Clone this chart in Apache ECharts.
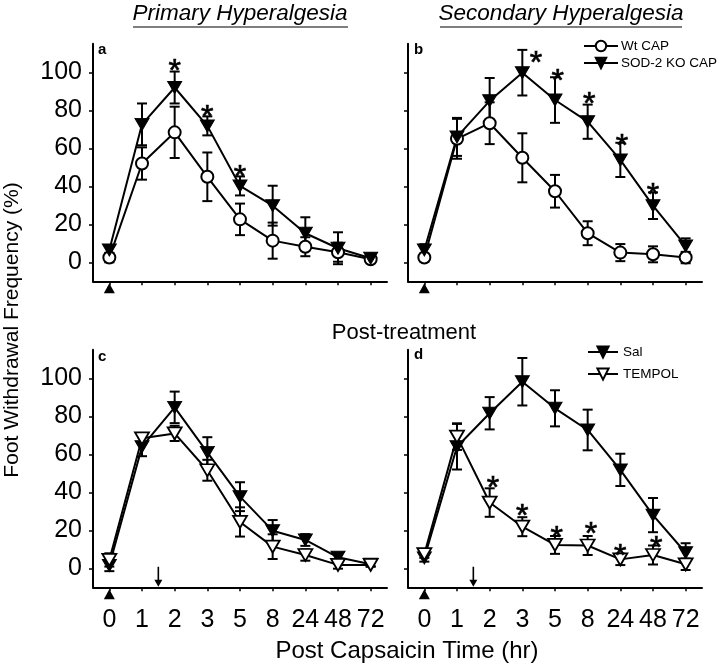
<!DOCTYPE html>
<html><head><meta charset="utf-8">
<script src="https://cdn.jsdelivr.net/npm/echarts@6/dist/echarts.min.js"></script>
<style>html,body{margin:0;padding:0;background:#fff}#c{width:720px;height:666px}</style>
</head><body><div id="c"></div>
<script>
// ---- data ----
const hours = ['0','1','2','3','5','8','24','48','72'];
const yTicks = [0, 20, 40, 60, 80, 100];

// Panel a (Primary hyperalgesia)
const wtA    = [2.5, 52, 68.4, 45, 22.6, 11.4, 8.2, 5.3, 1.6];
const wtAErr = [2.5, 8.5, 13.5, 12.8, 8.3, 9.5, 5, 5, 1.5];
const koA    = [6.5, 72.6, 92, 71.8, 40.2, 29.8, 15.3, 7.4, 2.1];
const koAErr = [2, 11, 8.4, 5, 5, 10.5, 8.4, 8.4, 1.5];
const starsA = [[2, 104.7], [3, 80.7], [4, 49]];

// Panel b (Secondary hyperalgesia)
const wtB    = [2.5, 65, 73.2, 55, 37.4, 15.3, 5.1, 4.2, 2.5];
const wtBErr = [2, 10.5, 11, 12.9, 8.6, 6.3, 4.5, 4.2, 3];
const koB    = [6.5, 66, 85, 99.8, 85.4, 74, 53.9, 29.8, 8.6];
const koBErr = [3, 10, 12, 12, 12, 9, 9, 7, 4];
const starsB = [[3.42, 109], [4.08, 99.5], [5.05, 87.2], [6.05, 65.3], [7, 39.8]];

// Panel c (Post-treatment, primary)
const salC     = [1.5, 64, 84.7, 61, 37.7, 19.8, 14.9, 5.8, 2.1];
const salCErr  = [3, 5, 8.3, 8, 7.6, 5.6, 3.1, 2, 1];
const tempC    = [4.4, 68.4, 71, 51.6, 24.4, 11.4, 7, 1.8, 1.8];
const tempCErr = [3.5, 2.6, 4, 5.5, 7.7, 6.5, 3, 2, 1];

// Panel d (Post-treatment, secondary)
const salD     = [5.5, 64, 81.6, 98.2, 84.2, 72.8, 51.8, 28, 8.2];
const salDErr  = [2, 12, 8.5, 12.5, 9.5, 10.7, 8.5, 9, 5];
const tempD    = [7.5, 69.3, 34.6, 21.9, 12.3, 12, 4.7, 7, 2.1];
const tempDErr = [2, 7, 7.5, 5, 4.7, 5, 3, 5, 3];
const starsD = [[2.1, 46.5], [3, 31.6], [4.05, 20.2], [5.1, 22.3], [6, 10.5], [7.1, 14.9]];

// capsaicin injection (triangle) and treatment (arrow) times, in tick index units
const capsaicinAt = 0;
const treatmentAt = 1.5;

// ---- chart ----
const FONT = '"Liberation Sans", Arial, Helvetica, sans-serif';
const chart = echarts.init(document.getElementById('c'), null, {renderer: 'canvas'});

const grids = [
  {left: 93, top: 43.8, width: 294, height: 237.5},
  {left: 408, top: 43.8, width: 294, height: 237.5},
  {left: 93, top: 349.8, width: 294, height: 237.5},
  {left: 408, top: 349.8, width: 294, height: 237.5}
];
const idx = hours.map((h, i) => i);

function xAx(g, labels) {
  return {
    type: 'value', gridIndex: g, min: -0.5, max: 8.5,
    axisLine: {onZero: false, lineStyle: {color: '#000', width: 2}},
    axisTick: {show: true, length: 4, lineStyle: {color: '#000', width: 1.5}, customValues: idx},
    axisLabel: {show: labels, customValues: idx, formatter: v => hours[Math.round(v)],
      color: '#000', fontSize: 25, fontFamily: FONT, margin: 20},
    splitLine: {show: false}
  };
}
function yAx(g, labels) {
  return {
    type: 'value', gridIndex: g, min: -10, max: 115,
    axisLine: {show: true, onZero: false, lineStyle: {color: '#000', width: 2}},
    axisTick: {show: true, length: 4, lineStyle: {color: '#000', width: 1.5}, customValues: yTicks},
    axisLabel: {show: labels, customValues: yTicks, color: '#000', fontSize: 25, fontFamily: FONT, margin: 11},
    splitLine: {show: false}
  };
}

const pts = arr => arr.map((v, i) => [i, v]);
const DOWN = 'path://M0,0 L10,0 L5,9 Z';
const UP = 'path://M5,0 L10,9 L0,9 Z';
const ARROW = 'path://M3.2,0 L4.8,0 L4.8,13 L8,13 L4,20 L0,13 L3.2,13 Z';

function errSeries(g, vals, errs) {
  return {
    type: 'custom', xAxisIndex: g, yAxisIndex: g, z: 2, silent: true,
    data: vals.map((v, i) => [i, v, errs[i]]),
    encode: {x: 0, y: 1},
    renderItem: (params, api) => {
      const x = api.value(0), y = api.value(1), e = api.value(2);
      const t = api.coord([x, y + e]), b = api.coord([x, y - e]);
      const w = 5;
      const st = {stroke: '#000', lineWidth: 2};
      return {type: 'group', children: [
        {type: 'line', shape: {x1: t[0], y1: t[1], x2: b[0], y2: b[1]}, style: st},
        {type: 'line', shape: {x1: t[0] - w, y1: t[1], x2: t[0] + w, y2: t[1]}, style: st},
        {type: 'line', shape: {x1: b[0] - w, y1: b[1], x2: b[0] + w, y2: b[1]}, style: st}
      ]};
    }
  };
}
function lineSeries(g, name, vals, kind) {
  const s = {
    type: 'line', name, xAxisIndex: g, yAxisIndex: g, z: 3, data: pts(vals),
    lineStyle: {color: '#000', width: 2}, showAllSymbol: true, animation: false
  };
  if (kind === 'circle') {
    s.symbol = 'circle'; s.symbolSize = 12;
    s.itemStyle = {color: '#fff', borderColor: '#000', borderWidth: 2};
  } else if (kind === 'filled') {
    s.symbol = DOWN; s.symbolSize = [14, 12];
    s.itemStyle = {color: '#000', borderColor: '#000', borderWidth: 1};
  } else {
    s.symbol = DOWN; s.symbolSize = [14, 12];
    s.itemStyle = {color: '#fff', borderColor: '#000', borderWidth: 1.8};
  }
  return s;
}
function starSeries(g, data) {
  return {
    type: 'custom', xAxisIndex: g, yAxisIndex: g, z: 5, silent: true, data,
    encode: {x: 0, y: 1},
    renderItem: (params, api) => {
      const p = api.coord([api.value(0), api.value(1)]);
      return {type: 'text', x: p[0], y: p[1] + 9, style: {
        text: '*', font: '32px ' + FONT, fill: '#000', stroke: '#000', lineWidth: 0.7,
        align: 'center', verticalAlign: 'middle'}};
    }
  };
}
function markerSeries(g, withArrow) {
  const s = [{
    type: 'scatter', xAxisIndex: g, yAxisIndex: g, z: 5, silent: true, clip: false,
    data: [[capsaicinAt, -13.7]], symbol: UP, symbolSize: [11, 10],
    itemStyle: {color: '#000', opacity: 1}
  }];
  if (withArrow) s.push({
    type: 'scatter', xAxisIndex: g, yAxisIndex: g, z: 5, silent: true, clip: false,
    data: [[treatmentAt, -4.5]], symbol: ARROW, symbolSize: [8, 20],
    itemStyle: {color: '#000', opacity: 1}
  });
  return s;
}

const series = [
  errSeries(0, wtA, wtAErr), errSeries(0, koA, koAErr),
  lineSeries(0, 'Wt CAP', wtA, 'circle'), lineSeries(0, 'SOD-2 KO CAP', koA, 'filled'),
  starSeries(0, starsA), ...markerSeries(0, false),

  errSeries(1, wtB, wtBErr), errSeries(1, koB, koBErr),
  lineSeries(1, 'Wt CAP', wtB, 'circle'), lineSeries(1, 'SOD-2 KO CAP', koB, 'filled'),
  starSeries(1, starsB), ...markerSeries(1, false),

  errSeries(2, salC, salCErr), errSeries(2, tempC, tempCErr),
  lineSeries(2, 'Sal', salC, 'filled'), lineSeries(2, 'TEMPOL', tempC, 'open'),
  ...markerSeries(2, true),

  errSeries(3, salD, salDErr), errSeries(3, tempD, tempDErr),
  lineSeries(3, 'Sal', salD, 'filled'), lineSeries(3, 'TEMPOL', tempD, 'open'),
  starSeries(3, starsD), ...markerSeries(3, true)
];

const txt = (text, x, y, font, extra) => Object.assign({
  type: 'text', x, y, silent: true,
  style: {text, font, fill: '#000', align: 'center', verticalAlign: 'middle'}
}, extra || {});
const lab = (text, x, y) => ({type: 'text', x, y, silent: true,
  style: {text, font: 'bold 15px ' + FONT, fill: '#000', align: 'left', verticalAlign: 'middle'}});

const option = {
  animation: false,
  backgroundColor: '#fff',
  grid: grids,
  xAxis: [xAx(0, false), xAx(1, false), xAx(2, true), xAx(3, true)],
  yAxis: [yAx(0, true), yAx(1, false), yAx(2, true), yAx(3, false)],
  legend: [
    {data: ['Wt CAP', 'SOD-2 KO CAP'], orient: 'vertical', left: 583, top: 39, padding: 0,
     itemWidth: 34, itemHeight: 13, itemGap: 3, selectedMode: false,
     textStyle: {fontSize: 13.5, fontFamily: FONT, color: '#000', padding: [0, 0, 0, -2]}},
    {data: ['Sal', 'TEMPOL'], orient: 'vertical', left: 587, top: 345, padding: 0,
     itemWidth: 30, itemHeight: 14, itemGap: 8, selectedMode: false,
     textStyle: {fontSize: 13.5, fontFamily: FONT, color: '#000'}}
  ],
  graphic: [
    txt('Primary Hyperalgesia', 240, 14, 'italic 22.5px ' + FONT),
    {type: 'line', silent: true, shape: {x1: 133, y1: 27, x2: 348, y2: 27}, style: {stroke: '#000', lineWidth: 1.2}},
    txt('Secondary Hyperalgesia', 561, 14, 'italic 22.5px ' + FONT),
    {type: 'line', silent: true, shape: {x1: 440, y1: 27, x2: 682, y2: 27}, style: {stroke: '#000', lineWidth: 1.2}},
    txt('Post-treatment', 404, 333, '22px ' + FONT),
    txt('Post Capsaicin Time (hr)', 407, 651, '24px ' + FONT),
    txt('Foot Withdrawal Frequency (%)', 12, 330, '21px ' + FONT, {rotation: Math.PI / 2}),
    lab('a', 98, 50), lab('b', 414, 50), lab('c', 98, 357), lab('d', 414, 355)
  ],
  series
};
chart.setOption(option);
</script>
</body></html>
